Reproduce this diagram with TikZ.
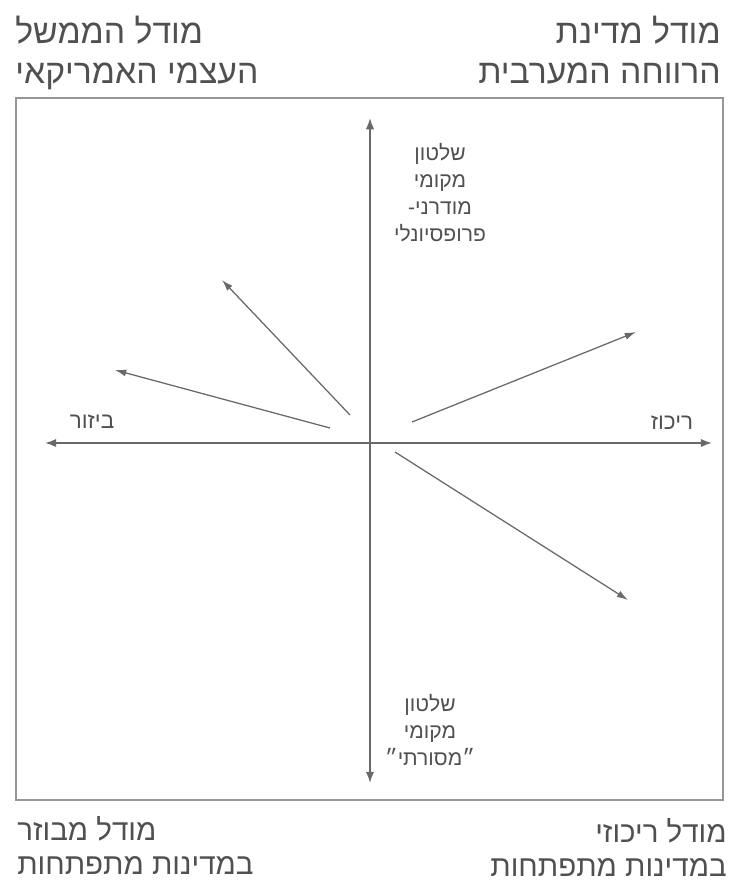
\documentclass[tikz,border=0pt]{standalone}
\usepackage{fontspec}
\usepackage{tikz}
\usetikzlibrary{arrows.meta, positioning}
\newfontfamily\hebfont[Script=Hebrew]{Liberation Sans}
\TeXXeTstate=1
\definecolor{mygray}{RGB}{105,105,105}
\definecolor{mytext}{RGB}{80,80,80}
\definecolor{myframe}{RGB}{150,150,150}
\newcommand{\heb}[1]{\beginR #1\endR}
\tikzset{
  boxframe/.style={draw=myframe, line width=2pt},
  axisline/.style={{Latex[length=8pt,width=6pt]}-{Latex[length=8pt,width=6pt]}, line width=1.2pt, color=mygray},
  trend/.style={-{Latex[length=8pt,width=5pt]}, line width=0.9pt, color=mygray},
  toptext/.style={font=\hebfont\fontsize{24}{28.5}\selectfont, text=mytext, inner sep=0pt},
  bottext/.style={font=\hebfont\fontsize{21}{24.5}\selectfont, text=mytext, inner sep=0pt},
  midtext/.style={font=\hebfont\fontsize{15}{19.2}\selectfont, text=mytext, inner sep=0pt, align=center},
  axistext/.style={font=\hebfont\fontsize{16}{19}\selectfont, text=mytext, inner sep=0pt}
}

\begin{document}
\begin{tikzpicture}[x=0.025cm, y=-0.025cm]
  \useasboundingbox (0,0) rectangle (731,884);

  % frame
  \draw[boxframe] (16,98) rectangle (723,800);

  % corner captions
  \node[toptext, anchor=north west, align=left] (usa) at (15,16)
    {\heb{מודל הממשל}\\\heb{העצמי האמריקאי}};
  \node[toptext, anchor=north east, align=right] (welfare) at (721,16)
    {\heb{מודל מדינת}\\\heb{הרווחה המערבית}};
  \node[bottext, anchor=north west, align=left] (decent) at (17,816)
    {\heb{מודל מבוזר}\\\heb{במדינות מתפתחות}};
  \node[bottext, anchor=north east, align=right] (cent) at (727,818)
    {\heb{מודל ריכוזי}\\\heb{במדינות מתפתחות}};

  % axes
  \coordinate (W) at (45,443);
  \coordinate (E) at (712,443);
  \coordinate (N) at (370,118);
  \coordinate (S) at (370,783);
  \draw[axisline] (W) -- (E);
  \draw[axisline] (N) -- (S);

  \node[axistext] (bizur) at (92,422) {\heb{ביזור}};
  \node[axistext] (rikuz) at (672,423) {\heb{ריכוז}};

  \node[midtext] (modern) at (440,193)
    {\heb{שלטון}\\\heb{מקומי}\\\heb{מודרני-}\\\heb{פרופסיונלי}};
  \node[midtext] (tradit) at (430,730)
    {\heb{שלטון}\\\heb{מקומי}\\\heb{״מסורתי״}};

  % trends
  \coordinate (t1s) at (350,415);
  \coordinate (t1e) at (222,280);
  \coordinate (t2s) at (330,428);
  \coordinate (t2e) at (115,370);
  \coordinate (t3s) at (412,422);
  \coordinate (t3e) at (636,332);
  \coordinate (t4s) at (395,452);
  \coordinate (t4e) at (628,600);
  \foreach \n in {1,2,3,4} {
    \draw[trend] (t\n s) -- (t\n e);
  }
\end{tikzpicture}
\end{document}
